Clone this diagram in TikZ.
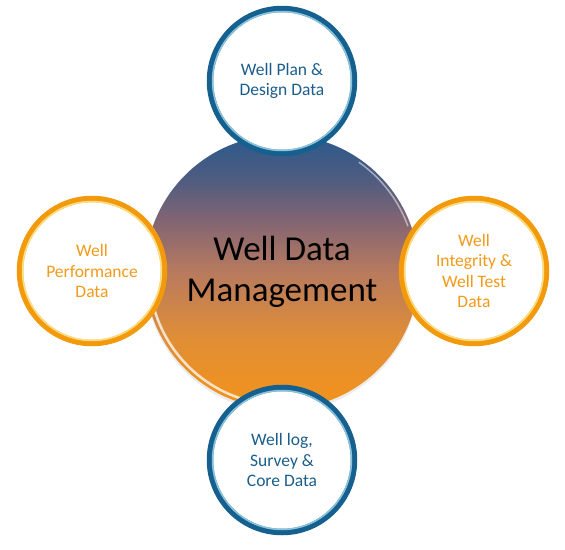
\documentclass[tikz,border=0pt]{standalone}
\usepackage{fontspec}
\setmainfont{Carlito}
\usetikzlibrary{shadows}
\definecolor{ringblue}{HTML}{15608E}
\definecolor{ringblueL}{HTML}{A6DCF0}
\definecolor{ringorange}{HTML}{F29A0C}
\definecolor{ringorangeL}{HTML}{FFF0A0}
\definecolor{txtblue}{HTML}{1B5E8C}
\definecolor{txtorange}{HTML}{F29A1A}
\definecolor{cA}{HTML}{F0921E}
\definecolor{cB}{HTML}{E08E36}
\definecolor{cC}{HTML}{B87A5E}
\definecolor{cD}{HTML}{846672}
\definecolor{cE}{HTML}{4E5C80}
\definecolor{cF}{HTML}{345A8A}
\pgfdeclareverticalshading{wdm}{100bp}{color(0bp)=(cA); color(27bp)=(cA); color(38bp)=(cB); color(50bp)=(cC); color(59bp)=(cD); color(67bp)=(cE); color(73bp)=(cF); color(100bp)=(cF)}
\tikzset{
  satellite/.style={circle, minimum size=144pt, inner sep=0pt, line width=6.5pt, fill=white,
    align=center, font=\fontsize{17.5}{20.5}\selectfont,
    drop shadow={opacity=0.2, shadow xshift=0pt, shadow yshift=-3pt}},
  bluesat/.style={satellite, draw=ringblue, text=txtblue},
  orangesat/.style={satellite, draw=ringorange, text=txtorange},
}
\begin{document}
\begin{tikzpicture}[x=1pt,y=-1pt]
\useasboundingbox (0,0) rectangle (565,549);
\fill[white] (0,0) rectangle (565,549);
% central circle
\node[circle, minimum size=274pt, inner sep=0pt, shading=wdm,
  drop shadow={opacity=0.15, shadow xshift=0pt, shadow yshift=-3pt},
  align=center, font=\fontsize{35}{41}\selectfont, text=black] (center) at (282,272) {Well Data\\Management};
\draw[white, line width=2.5pt, opacity=0.75] (center.center) ++(105:133) arc (105:175:133);
\draw[white, line width=1.5pt, opacity=0.5] (center.center) ++(-20:134) arc (-20:-55:134);
% satellites
\node[bluesat] (plan) at (282,81) {Well Plan \&\\Design Data};
\node[orangesat] (perf) at (92,271) {Well\\Performance\\Data};
\node[orangesat] (integ) at (474,271) {Well\\Integrity \&\\Well Test\\Data};
\node[bluesat] (log) at (282,460) {Well log,\\Survey \&\\Core Data};
% inner highlights of rings
\foreach \n in {plan,log}
  \draw[ringblueL, line width=1.5pt, opacity=0.8] (\n.center) circle (69.5);
\foreach \n in {perf,integ}
  \draw[ringorangeL, line width=1.5pt, opacity=0.8] (\n.center) circle (69.5);
\end{tikzpicture}
\end{document}
